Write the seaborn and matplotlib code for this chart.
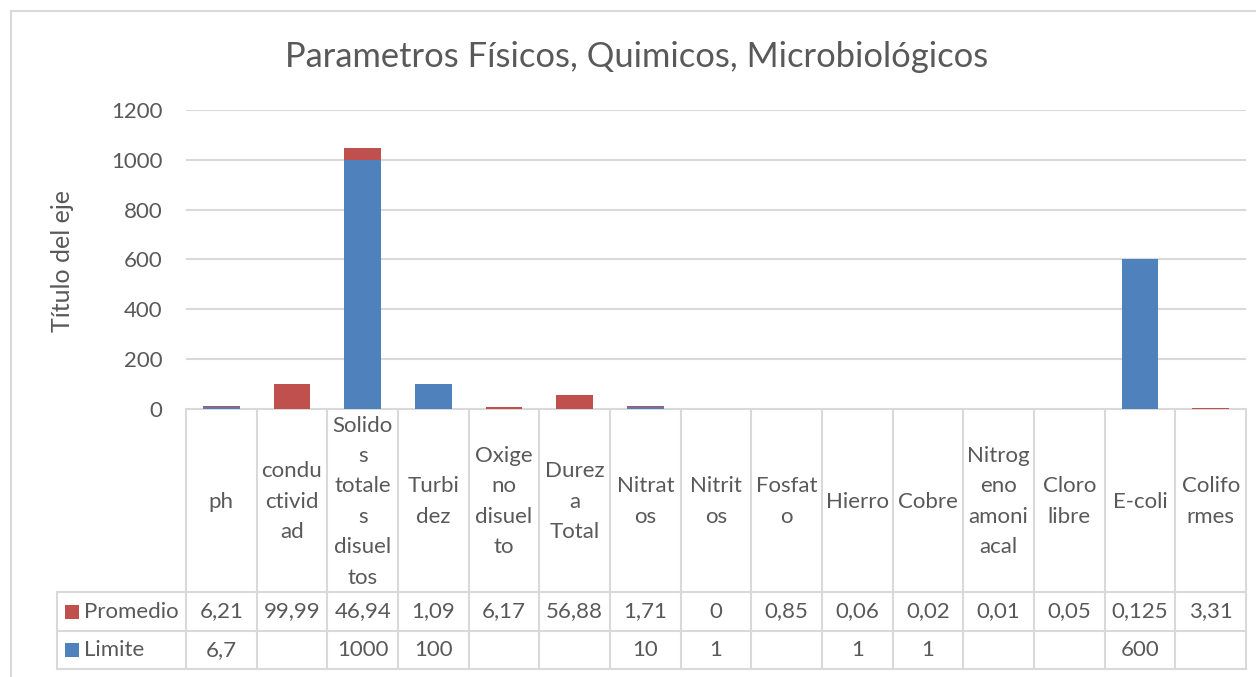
import numpy as np
import pandas as pd
import matplotlib
matplotlib.use("Agg")
import matplotlib.pyplot as plt
import seaborn as sns

# ---------------------------------------------------------------
# data
# ---------------------------------------------------------------
categorias = ["ph", "condu\nctivid\nad", "Solido\ns\ntotale\ns\ndisuel\ntos", "Turbi\ndez",
              "Oxige\nno\ndisuel\nto", "Durez\na\nTotal", "Nitrat\nos", "Nitrit\nos",
              "Fosfat\no", "Hierro", "Cobre", "Nitrog\neno\namoni\nacal", "Cloro\nlibre",
              "E-coli", "Colifo\nrmes"]
promedio = [6.21, 99.99, 46.94, 1.09, 6.17, 56.88, 1.71, 0, 0.85, 0.06, 0.02, 0.01, 0.05, 0.125, 3.31]
limite = [6.7, np.nan, 1000, 100, np.nan, np.nan, 10, 1, np.nan, 1, 1, np.nan, np.nan, 600, np.nan]
y_ticks = [0, 200, 400, 600, 800, 1000, 1200]

titulo = "Parametros Físicos, Quimicos, Microbiológicos"
eje_y = "Título del eje"

ROJO = "#C0504D"
AZUL = "#4F81BD"
GRIS = "#D9D9D9"
TXT = "#595959"

df = pd.DataFrame({"cat": categorias, "Promedio": promedio, "Limite": limite})
df["Limite0"] = df["Limite"].fillna(0)
df["total"] = df["Limite0"] + df["Promedio"]

# ---------------------------------------------------------------
# figure
# ---------------------------------------------------------------
sns.set_theme(style="white")
plt.rcParams["font.family"] = ["Lato", "DejaVu Sans"]

W, H = 1256, 677
fig = plt.figure(figsize=(W / 100, H / 100), dpi=100)

x0, x1 = 186, 1246
y_top, y_base = 110, 409
ax = fig.add_axes([x0 / W, 1 - y_base / H, (x1 - x0) / W, (y_base - y_top) / H])

# stacked: total in red, limite drawn on top in blue
sns.barplot(data=df, x="cat", y="total", color=ROJO, saturation=1, width=0.52,
            ax=ax, zorder=3, linewidth=0)
sns.barplot(data=df, x="cat", y="Limite0", color=AZUL, saturation=1, width=0.52,
            ax=ax, zorder=4, linewidth=0)

ax.set_ylim(0, 1200)
ax.set_xlim(-0.5, len(categorias) - 0.5)
ax.set_yticks(y_ticks)
ax.set_yticklabels([str(t) for t in y_ticks])
ax.tick_params(axis="y", length=0, pad=17, labelsize=16, labelcolor=TXT)
ax.set_xticks([])
ax.set_xlabel("")
ax.set_ylabel("")
ax.grid(axis="y", color=GRIS, linewidth=1.5, zorder=0)
ax.set_axisbelow(True)
for s in ax.spines.values():
    s.set_visible(False)

# ---------------------------------------------------------------
# overlay (pixel coords) for title, border and data table
# ---------------------------------------------------------------
ov = fig.add_axes([0, 0, 1, 1], zorder=-1)
ov.set_xlim(0, W)
ov.set_ylim(H, 0)
ov.axis("off")

# chart border
ov.plot([11, W], [11, 11], color=GRIS, lw=1.5)
ov.plot([11, 11], [11, H], color=GRIS, lw=1.5)

fig.text(637 / W, 1 - 57 / H, titulo, ha="center", va="center", fontsize=24.8, color=TXT)
fig.text(62 / W, 1 - 261 / H, eje_y, ha="center", va="center", rotation=90,
         fontsize=18, color=TXT)

n = len(categorias)
cw = (x1 - x0) / n
r_head, r_prom, r_lim, r_end = 409, 592, 631, 669
lx = 57

# horizontal table lines
ov.plot([x0, x1], [r_head, r_head], color=GRIS, lw=1.5)
for yy in (r_prom, r_lim, r_end):
    ov.plot([lx, x1], [yy, yy], color=GRIS, lw=1.5)
# vertical lines
ov.plot([lx, lx], [r_prom, r_end], color=GRIS, lw=1.5)
for i in range(n + 1):
    ov.plot([x0 + i * cw, x0 + i * cw], [r_head, r_end], color=GRIS, lw=1.5)


def fmt(v):
    if pd.isna(v):
        return ""
    return f"{v:g}".replace(".", ",")


fs = 16
for i, cat in enumerate(categorias):
    cx = x0 + (i + 0.5) * cw
    ov.text(cx, (r_head + r_prom) / 2 + 1, cat, ha="center", va="center",
            multialignment="center", fontsize=fs, color=TXT, linespacing=1.65)
    ov.text(cx, (r_prom + r_lim) / 2, fmt(promedio[i]), ha="center", va="center",
            fontsize=fs, color=TXT)
    ov.text(cx, (r_lim + r_end) / 2, fmt(limite[i]), ha="center", va="center",
            fontsize=fs, color=TXT)

# legend keys
for yy0, yy1, col, name in ((r_prom, r_lim, ROJO, "Promedio"), (r_lim, r_end, AZUL, "Limite")):
    cy = (yy0 + yy1) / 2
    ov.add_patch(plt.Rectangle((65, cy - 7), 14, 14, color=col, lw=0))
    ov.text(84, cy, name, ha="left", va="center", fontsize=fs, color=TXT)

fig.savefig("out.png", dpi=100)
